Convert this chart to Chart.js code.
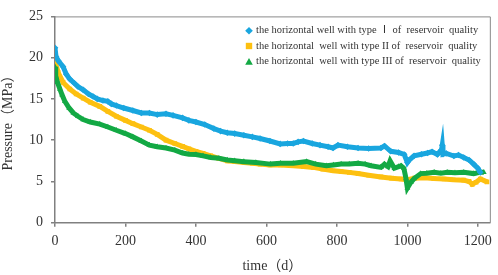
<!DOCTYPE html>
<html>
<head>
<meta charset="utf-8">
<script src="https://cdn.jsdelivr.net/npm/chart.js@4/dist/chart.umd.min.js"></script>
<style>
html,body{margin:0;padding:0;background:#fff;}
#wrap{width:498px;height:275px;position:relative;}
</style>
</head>
<body>
<div id="wrap"><canvas id="c" width="498" height="275"></canvas></div>
<script>
// ---- data ----
const seriesLabels = [
  "the horizontal well with type \u2160 of  reservoir  quality",
  "the horizontal  well with type II of  reservoir  quality",
  "the horizontal  well with type III of  reservoir  quality"
];
const xTicks = [0, 200, 400, 600, 800, 1000, 1200];
const yTicks = [0, 5, 10, 15, 20, 25];

const daysI = [0,3,10,23,32,42,55,65,80,95,108,120,136,150,160,174,195,221,245,268,290,315,335,362,380,400,425,451,470,489,510,536,560,582,610,639,660,676,690,705,730,752,775,789,803,830,860,890,925,935,953,975,991,1000,1005,1019,1040,1057,1070,1085,1097,1099,1101,1110,1132,1145,1160,1175,1188,1200,1207];
const pressI = [21.2,20.1,19.6,18.9,18.0,17.4,16.9,16.5,16.1,15.6,15.3,15.0,14.8,14.7,14.4,14.2,13.9,13.6,13.3,13.3,13.1,13.2,13.0,12.7,12.4,12.2,11.9,11.4,11.1,10.9,10.8,10.6,10.4,10.2,9.9,9.55,9.6,9.6,9.8,9.9,9.6,9.4,9.2,9.05,9.4,9.2,9.05,9.0,9.05,9.3,8.65,8.5,8.27,7.3,7.6,8.1,8.3,8.45,8.6,8.27,8.85,9.4,8.3,8.4,8.08,8.2,7.9,7.6,7.1,6.6,6.1];

const daysII = [0,2,9,23,42,60,80,100,127,150,174,200,221,245,268,290,315,340,362,380,400,420,442,465,489,510,536,560,582,610,640,676,705,733,760,789,812,835,860,890,925,955,982,1000,1020,1048,1075,1104,1130,1160,1175,1184,1195,1207,1226];
const pressII = [20.3,19.3,18.2,17.0,16.2,15.6,15.1,14.6,14.1,13.5,12.9,12.4,12.0,11.6,11.2,10.7,10.0,9.6,9.25,8.95,8.65,8.4,8.1,7.8,7.5,7.4,7.3,7.2,7.1,7.0,7.0,6.9,6.8,6.7,6.5,6.3,6.2,6.1,5.95,5.75,5.55,5.4,5.3,5.2,5.4,5.45,5.35,5.3,5.2,5.15,5.0,4.65,4.9,5.3,4.95];

const daysIII = [0,2,7,14,20,28,40,52,65,80,100,127,150,174,200,221,245,268,290,315,340,362,380,400,420,442,465,489,510,536,570,611,640,676,714,740,770,790,812,835,860,880,897,925,935,945,951,963,975,982,990,996,1000,1010,1019,1038,1055,1076,1095,1113,1135,1160,1188,1205,1217];
const pressIII = [18.9,17.8,17.0,16.2,15.5,14.7,13.9,13.3,12.9,12.5,12.2,11.95,11.6,11.2,10.8,10.4,9.9,9.4,9.2,9.05,8.8,8.45,8.3,8.27,8.1,7.9,7.8,7.6,7.5,7.4,7.3,7.1,7.2,7.2,7.4,7.1,6.9,7.0,7.1,7.1,7.2,7.1,6.9,6.7,7.1,6.8,7.5,6.6,6.8,6.9,6.6,5.35,4.2,4.9,5.35,5.95,6.0,6.1,6.0,6.1,6.05,6.1,5.95,6.1,6.1];

const colors = ['#19a6df', '#fdc010', '#13a944'];
const styles = ['rectRot', 'rect', 'triangle'];
const drawOrder = [0, 2, 1];

function pts(d, p){ return d.map((x,i)=>({x:x, y:p[i]})); }

const FONT = '"Liberation Serif", "Times New Roman", "Noto Sans CJK SC", serif';

const frame = {
  id: 'frame',
  beforeDatasetsDraw(chart){
    const {ctx, chartArea:a} = chart;
    ctx.save();
    ctx.strokeStyle = '#8a8a8a';
    ctx.lineWidth = 1;
    ctx.beginPath();
    ctx.moveTo(a.left, a.top + 0.5);
    ctx.lineTo(a.right + 0.5, a.top + 0.5);
    ctx.lineTo(a.right + 0.5, a.bottom);
    ctx.stroke();
    ctx.restore();
  }
};

const legendPlug = {
  id: 'legendPlug',
  afterDraw(chart){
    const ctx = chart.ctx;
    ctx.save();
    const rows = [30.7, 46, 61.7];
    ctx.font = '10.5px ' + FONT;
    ctx.textBaseline = 'middle';
    chart.data.datasets.forEach((ds, i) => {
      const y = rows[i];
      ctx.fillStyle = colors[i];
      ctx.beginPath();
      if (styles[i] === 'rectRot') { ctx.moveTo(249, y-3.8); ctx.lineTo(252.8, y); ctx.lineTo(249, y+3.8); ctx.lineTo(245.2, y); }
      else if (styles[i] === 'rect') { ctx.rect(245.8, y-3.2, 6.4, 6.4); }
      else { ctx.moveTo(249, y-3.8); ctx.lineTo(252.8, y+3); ctx.lineTo(245.2, y+3); }
      ctx.closePath();
      ctx.fill();
      ctx.fillStyle = '#333';
      ctx.fillText(ds.label, 256, y);
    });
    ctx.restore();
  }
};

new Chart(document.getElementById('c'), {
  type: 'scatter',
  data: {
    datasets: [0,1,2].map(i => ({
      label: seriesLabels[i],
      data: pts([daysI, daysII, daysIII][i], [pressI, pressII, pressIII][i]),
      order: drawOrder[i],
      showLine: true,
      borderColor: colors[i],
      backgroundColor: colors[i],
      borderWidth: 5,
      pointStyle: styles[i],
      pointRadius: 3.3,
      pointBorderWidth: 0,
      tension: 0
    }))
  },
  options: {
    responsive: false,
    animation: false,
    events: [],
    layout: { padding: { top: 8, right: 5, left: 0, bottom: 0 } },
    plugins: { legend: { display: false }, tooltip: { enabled: false } },
    scales: {
      x: {
        type: 'linear', min: 0, max: 1234,
        afterFit(s){ s.height = 52.3; },
        afterBuildTicks(s){ s.ticks = xTicks.map(v => ({value: v})); },
        border: { color: '#808080', width: 1.5 },
        grid: { drawOnChartArea: false, drawTicks: true, tickLength: 4, color: '#808080', lineWidth: 1.5 },
        ticks: { color: '#333', font: { family: FONT, size: 14 }, padding: 6, maxRotation: 0, callback: v => String(v) },
        title: { display: true, text: 'time\uff08d\uff09', color: '#333', font: { family: FONT, size: 14 }, padding: { top: 2, bottom: 0 } }
      },
      y: {
        min: 0, max: 25,
        afterFit(s){ s.width = 55; },
        afterBuildTicks(s){ s.ticks = yTicks.map(v => ({value: v})); },
        border: { color: '#808080', width: 1.5 },
        grid: { drawOnChartArea: false, drawTicks: true, tickLength: 4, color: '#808080', lineWidth: 1.5 },
        ticks: { color: '#333', font: { family: FONT, size: 14 }, padding: 8, callback: v => String(v) },
        title: { display: true, text: 'Pressure\uff08MPa\uff09', color: '#333', font: { family: FONT, size: 14 }, padding: { top: 0, bottom: 2 } }
      }
    }
  },
  plugins: [frame, legendPlug]
});
</script>
</body>
</html>
